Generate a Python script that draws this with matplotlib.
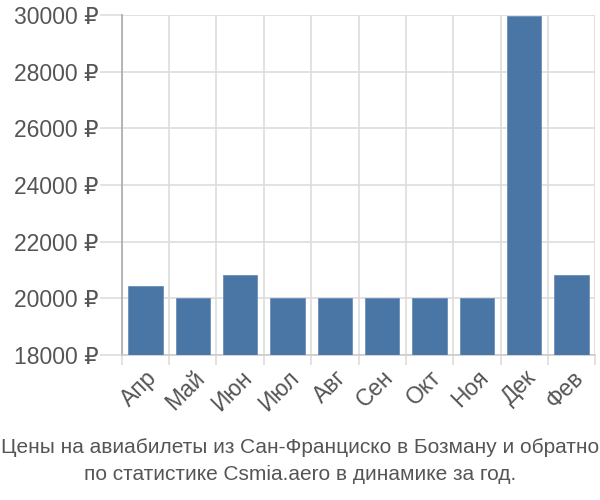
import numpy as np
import matplotlib
matplotlib.use("Agg")
import matplotlib.pyplot as plt
from matplotlib.ticker import FixedLocator

MONTHS = ["Апр", "Май", "Июн", "Июл", "Авг", "Сен", "Окт", "Ноя", "Дек", "Фев"]
PRICES = [20450, 20000, 20820, 20000, 20000, 20000, 20000, 20000, 29950, 20820]
YTICKS = [18000, 20000, 22000, 24000, 26000, 28000, 30000]
TITLE = ("Цены на авиабилеты из Сан-Франциско в Бозману и обратно\n"
         "по статистике Csmia.aero в динамике за год.")

plt.rcParams.update({"font.family": ["Liberation Sans", "DejaVu Sans"]})
TXT = "#555555"
GRID = "#dddddd"

fig = plt.figure(figsize=(6, 5), dpi=100)
ax = fig.add_axes([0.203, 0.29, 0.789, 0.68])

x = np.arange(len(MONTHS))
ax.bar(x, PRICES, width=0.72, color="#4a76a6", edgecolor="#6b8fba",
       linewidth=0.6, zorder=3)

ax.set_xlim(-0.5, len(MONTHS) - 0.5)
ax.set_ylim(18000, 30000)

ax.set_yticks(YTICKS)
ax.set_yticklabels([f"{v} ₽" for v in YTICKS])
ax.set_xticks(x)
ax.set_xticklabels(MONTHS, rotation=45, ha="right", rotation_mode="anchor")
ax.xaxis.set_minor_locator(FixedLocator(np.arange(len(MONTHS) + 1) - 0.5))

ax.grid(True, axis="y", color=GRID, lw=1.2, zorder=0)
ax.grid(True, axis="x", which="minor", color=GRID, lw=1.2, zorder=0)
ax.tick_params(axis="y", length=16, width=1.2, color=GRID, pad=1,
               labelsize=16.5, labelcolor=TXT)
ax.tick_params(axis="x", which="major", length=0, pad=8,
               labelsize=16.5, labelcolor=TXT)
ax.tick_params(axis="x", which="minor", length=7, width=1.2, color=GRID)

for s in ("top", "right"):
    ax.spines[s].set_visible(False)
ax.spines["left"].set_color("#aaaaaa")
ax.spines["left"].set_linewidth(1.2)
ax.spines["bottom"].set_color("#cccccc")
ax.spines["bottom"].set_linewidth(1.2)

fig.text(0.5, 0.078, TITLE, ha="center", va="center", fontsize=15,
         color=TXT, linespacing=1.5)

fig.savefig("out.png", dpi=100)
